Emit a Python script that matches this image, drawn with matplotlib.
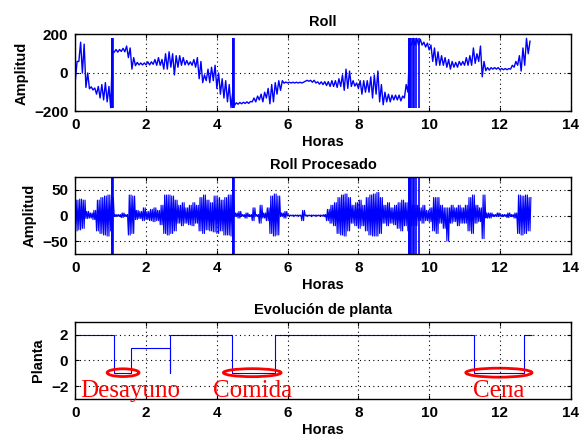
import numpy as np
import matplotlib
matplotlib.use('Agg')
import matplotlib.pyplot as plt
from matplotlib.patches import Ellipse

plt.rcParams['font.family'] = ['Liberation Sans', 'DejaVu Sans']

# ---- data (min / max of the signal per 0.1 h bin) ----
bin_t = np.round(np.arange(129) * 0.1, 1)

roll_lo = [-40, 60, 0, -75, -82, -88, -110, -130, -140, -150,
           -180, 108, 108, 112, 110, 80, 20, 38, 42, 42,
           42, 42, 45, 40, 40, 20, 20, 30, -10, 30,
           40, 42, 42, 40, 30, -30, -50, -40, -50, -40,
           -80, -110, -130, -150, -180, -168, -162, -160, -158, -158,
           -150, -150, -140, -150, -130, -160, -150, -110, -90, -53,
           -52, -52, -52, -52, -52, -43, -43, -48, -52, -58,
           -60, -65, -70, -70, -75, -70, -90, -80, -70, -68,
           -80, -110, -100, -100, -130, -110, -150, -165, -150, -150,
           -140, -140, -145, -130, -100, 145, 145, 145, 145, 135,
           120, 60, 40, 40, 40, 30, 20, 30, 30, 40,
           40, 40, 40, 50, 60, -20, 12, 15, 20, 20,
           17, 17, 17, 20, 30, 40, 10, 40, 100]
roll_hi = [60, 160, 150, 0, -72, -78, -70, -60, -50, -70,
           110, 122, 122, 128, 140, 130, 80, 55, 52, 52,
           58, 58, 70, 80, 70, 100, 110, 100, 90, 90,
           80, 65, 58, 70, 80, 60, -10, 20, 30, 40,
           0, -30, -40, -60, -100, -155, -153, -152, -150, -148,
           -130, -120, -110, -100, -80, -60, -50, -40, -40, -47,
           -48, -48, -48, -48, -48, -38, -38, -38, -46, -46,
           -45, -45, -40, -40, -30, -10, 20, 10, -40, -52,
           -40, -40, -40, -20, -10, 10, -60, -100, -110, -115,
           -115, -115, -120, -60, 150, 180, 180, 175, 160, 155,
           145, 130, 110, 90, 80, 70, 60, 55, 60, 60,
           80, 90, 130, 100, 140, 60, 28, 28, 28, 28,
           23, 23, 23, 40, 60, 90, 130, 180, 165]

proc_hi = [30, 32, 30, 8, 5, 10, 30, 35, 38, 40,
           35, 2, 2, 5, 2, 40, 38, 10, 8, 15,
           8, 12, 15, 10, 20, 40, 40, 38, 30, 20,
           25, 15, 20, 25, 20, 35, 40, 30, 25, 38,
           35, 30, 35, 40, 40, 5, 8, 2, 5, 2,
           15, 2, 20, 5, 15, 38, 42, 38, 5, 8,
           1, 1, 1, 1, 10, 1, 1, 1, 1, 1,
           2, 12, 20, 25, 35, 40, 42, 35, 20, 25,
           30, 20, 35, 40, 42, 45, 35, 20, 25, 15,
           20, 25, 30, 25, 30, 20, 20, 15, 20, 10,
           15, 35, 35, 20, 15, 15, 20, 15, 20, 15,
           20, 35, 40, 20, 15, 40, 5, 5, 2, 5,
           2, 2, 5, 2, 5, 40, 38, 40, 35]
proc_lo = [-30, -28, -25, -6, -5, -8, -30, -35, -38, -40,
           -30, -2, -2, -4, -2, -38, -35, -8, -6, -10,
           -8, -10, -12, -10, -18, -35, -38, -35, -30, -15,
           -20, -15, -18, -20, -15, -30, -35, -28, -30, -32,
           -35, -30, -38, -38, -40, -2, -5, -2, -5, -2,
           -10, -2, -15, -5, -10, -35, -40, -38, -2, -5,
           -1, -1, -1, -1, -10, -1, -1, -1, -1, -1,
           -2, -10, -15, -20, -35, -38, -40, -30, -15, -20,
           -25, -20, -30, -38, -40, -40, -35, -15, -20, -15,
           -18, -25, -30, -20, -30, -20, -20, -10, -15, -10,
           -12, -30, -35, -15, -25, -50, -15, -12, -20, -15,
           -15, -30, -35, -15, -12, -45, -5, -5, -2, -2,
           -2, -2, -4, -2, -5, -35, -38, -35, -30]

# full-scale sweeps (sensor saturation)
sat_t = [1.03, 1.05, 1.06, 4.45, 4.47, 4.49,
         9.42, 9.44, 9.47, 9.50, 9.53, 9.57, 9.62, 9.70]
roll_sat = (-180, 180)
proc_sat = (-75, 75)

# plant state (step function)
planta_edges = [0, 1.09, 1.56, 2.67, 2.69, 4.43, 5.63, 11.28, 12.69, 12.9]
planta_levels = [2, -1, 1, -1, 2, -1, 2, -1, 2]

meals = ['Desayuno', 'Comida', 'Cena']
meal_text_x = [0.15, 3.9, 11.25]
meal_center = [1.35, 5.0, 11.97]
meal_width = [0.9, 1.63, 1.87]
meal_height = [0.6, 0.62, 0.7]


def minmax_trace(t, lo, hi, n=4):
    # draw each bin as lo/hi alternations, like a min-max decimated signal
    sub = np.arange(n) * 0.1 / n
    x = (np.asarray(t)[:, None] + sub[None, :]).ravel()
    pair = np.column_stack([lo, hi])
    y = np.tile(pair, (1, n // 2)).ravel()
    return x, y


dots = (0, (1, 3))
fig = plt.figure(figsize=(5.82, 4.36), dpi=100)
left, width, height = 0.1294, 0.8512, 0.1766
ax1 = fig.add_axes([left, 0.7443, width, height])
ax2 = fig.add_axes([left, 0.4174, width, height])
ax3 = fig.add_axes([left, 0.0849, width, height])

x, y = minmax_trace(bin_t, roll_lo, roll_hi, n=2)
ax1.plot(x, y, color='b', lw=1.0)
ax1.vlines(sat_t, *roll_sat, color='b', lw=1.2)
ax1.set_ylim(-200, 200)
ax1.set_yticks([-200, 0, 200])
ax1.set_title('Roll', fontsize=10.5, fontweight='bold', pad=6)
ax1.set_ylabel('Amplitud', fontsize=10.5, fontweight='bold')

x, y = minmax_trace(bin_t, proc_lo, proc_hi, n=4)
ax2.plot(x, y, color='b', lw=0.8)
ax2.vlines(sat_t, *proc_sat, color='b', lw=1.2)
ax2.set_ylim(-75, 75)
ax2.set_yticks([-50, 0, 50])
ax2.set_title('Roll Procesado', fontsize=10.5, fontweight='bold', pad=6)
ax2.set_ylabel('Amplitud', fontsize=10.5, fontweight='bold')

ax3.stairs(planta_levels, planta_edges, baseline=None, color='b', lw=0.8)
ax3.set_ylim(-3, 3)
ax3.set_yticks([-2, 0, 2])
ax3.set_title('Evolución de planta', fontsize=10.5, fontweight='bold', pad=6)
ax3.set_ylabel('Planta', fontsize=10.5, fontweight='bold')
for name, tx, cx, w, h in zip(meals, meal_text_x, meal_center, meal_width, meal_height):
    ax3.add_patch(Ellipse((cx, -0.95), w, h, fill=False, edgecolor='r', lw=2))
    ax3.text(tx, -2.82, name, color='r', fontsize=18, family='Liberation Serif',
             va='baseline', ha='left')

for ax in (ax1, ax2, ax3):
    ax.set_xlim(0, 14)
    ax.set_xticks(range(0, 15, 2))
    ax.set_xlabel('Horas', fontsize=10.5, fontweight='bold', labelpad=2)
    ax.grid(True, color='k', linestyle=dots, lw=0.8)
    ax.tick_params(direction='in', top=True, right=True, length=3, labelsize=11, pad=5)
    for lab in ax.get_xticklabels() + ax.get_yticklabels():
        lab.set_fontweight('bold')
    for s in ax.spines.values():
        s.set_linewidth(1.0)

fig.savefig('out.png', dpi=100)
